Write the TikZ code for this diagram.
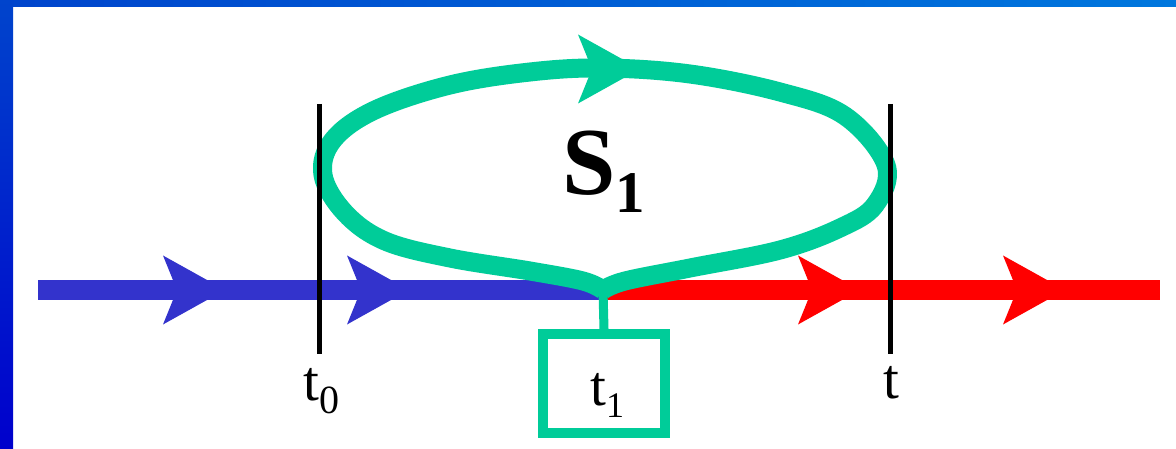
\documentclass[tikz,border=0pt]{standalone}
\usepackage{fontspec}
\setmainfont{Liberation Serif}
\definecolor{lineblue}{HTML}{3333CC}
\definecolor{linered}{HTML}{FF0000}
\definecolor{loopgreen}{HTML}{00CC99}
\definecolor{barA}{HTML}{0044CC}
\definecolor{barB}{HTML}{0077DD}
\definecolor{barC}{HTML}{0000CC}
\tikzset{
  arrowhd/.pic={\fill (0,0) -- (-62,-34.5) -- (-48,0) -- (-62,34.5) -- cycle;},
  track/.style={line width=20pt},
  tick/.style={line width=5pt, black},
  loopline/.style={loopgreen, line width=19pt, line join=round},
  lbl/.style={anchor=base west, inner sep=0pt, font=\fontsize{57}{57}\selectfont},
}
\begin{document}
\begin{tikzpicture}[x=1pt,y=-1pt]
\useasboundingbox (0,0) rectangle (1176,449);
\fill[white] (0,0) rectangle (1176,449);
\shade[left color=barA, right color=barB] (0,0) rectangle (1176,7);
\shade[top color=barA, bottom color=barC] (0,0) rectangle (13,449);

\coordinate (start) at (38,290);
\coordinate (cusp) at (603,290);
\coordinate (finish) at (1160,290);
\draw[track, lineblue] (start) -- (cusp);
\draw[track, linered] (cusp) -- (finish);
\pic[color=lineblue] at (225,290) {arrowhd};
\pic[color=lineblue] at (409,290) {arrowhd};
\pic[color=linered] at (860,290) {arrowhd};
\pic[color=linered] at (1065,290) {arrowhd};

\draw[loopline] plot[smooth, tension=0.6] coordinates {(603,290) (583,281) (530,271) (450,258) (385,241) (345,213) (323,175) (333,140) (375,110) (450,85) (530,72) (603,68) (690,74) (780,92) (845,116) (886,165) (875,205) (840,228) (780,250) (690,268) (625,281) (603,290)};
\pic[color=loopgreen] at (640,69) {arrowhd};

\node[draw=loopgreen, line width=10pt, minimum width=122pt, minimum height=99pt, inner sep=0pt] (box) at (604,383.5) {};
\draw[loopgreen, line width=9pt] (cusp) -- (box.north);

\coordinate (t0top) at (319,104);
\coordinate (t0bot) at (319,354);
\coordinate (ttop) at (890,104);
\coordinate (tbot) at (890,354);
\draw[tick] (t0top) -- (t0bot);
\draw[tick] (ttop) -- (tbot);

\node[lbl] (t0lbl) at (303,400) {t\raisebox{-13pt}{\fontsize{40}{40}\selectfont 0}};
\node[lbl] (tlbl) at (883,398) {t};
\node[lbl] (t1lbl) at (590,405) {t\raisebox{-12pt}{\fontsize{36}{36}\selectfont 1}};
\node[anchor=base west, inner sep=0pt, font=\bfseries\fontsize{96}{96}\selectfont] (s1lbl) at (562,195) {S\raisebox{-18pt}{\fontsize{59}{59}\selectfont 1}};
\end{tikzpicture}
\end{document}
